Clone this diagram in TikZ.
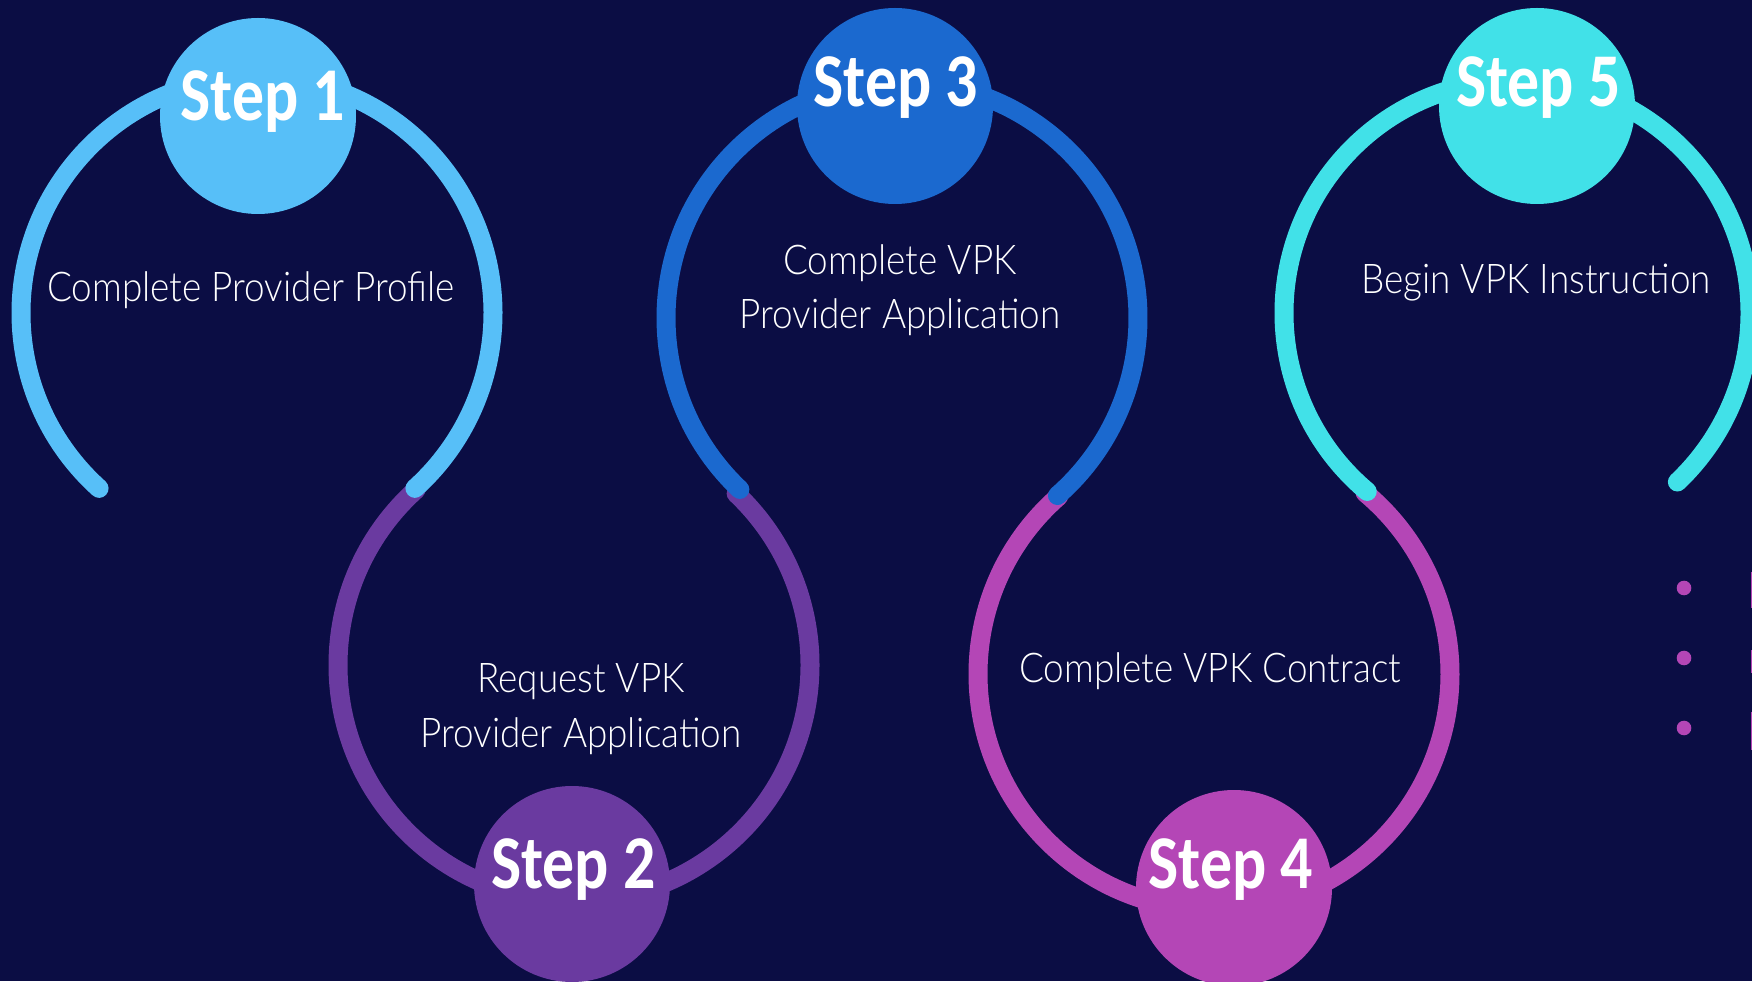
\documentclass[tikz,border=0pt]{standalone}
\usepackage{fontspec}
\setmainfont{Carlito}
\newfontfamily\stepfont{Carlito}[FakeStretch=0.84]
\newfontfamily\descfont{Lato Light}[FakeStretch=0.9]
\definecolor{bg}{RGB}{11,13,68}
\definecolor{cA}{RGB}{87,191,248}
\definecolor{cB}{RGB}{106,58,160}
\definecolor{cC}{RGB}{27,105,207}
\definecolor{cD}{RGB}{180,70,182}
\definecolor{cE}{RGB}{65,225,232}
\begin{document}
\begin{tikzpicture}[x=0.5pt,y=0.5pt,
  ring/.style={line width=9.5pt,line cap=round},
  stepcircle/.style={circle,minimum size=98pt,inner sep=0pt},
  steplabel/.style={text=white,font=\stepfont\bfseries\fontsize{38}{38}\selectfont,anchor=base,inner sep=0pt},
  desc/.style={text=white,font=\descfont\fontsize{20.5}{27}\selectfont,anchor=base,inner sep=0pt},
  dot/.style={circle,fill=cD,minimum size=7.3pt,inner sep=0pt}]
\useasboundingbox (0,0) rectangle (1752,981);
\clip (0,0) rectangle (1752,981);
\fill[bg] (0,0) rectangle (1752,981);
% ring centres
\coordinate (r1) at (257,668);
\coordinate (r2) at (574,316);
\coordinate (r3) at (902,663);
\coordinate (r4) at (1214,307);
\coordinate (r5) at (1517,668);
% lower rings first
\draw[ring,cB] ([shift={(132:236)}]r2) arc[start angle=132,end angle=406.6,radius=236];
\draw[ring,cD] ([shift={(131.2:236)}]r4) arc[start angle=131.2,end angle=410.2,radius=236];
% upper rings
\draw[ring,cA] ([shift={(228:236)}]r1) arc[start angle=228,end angle=-48,radius=236];
\draw[ring,cC] ([shift={(226.6:236)}]r3) arc[start angle=226.6,end angle=-48.8,radius=236];
\draw[ring,cE] ([shift={(230:233)}]r5) arc[start angle=230,end angle=-46.5,radius=233];
% step circles
\node[stepcircle,fill=cA] (s1) at (258,865) {};
\node[stepcircle,fill=cB] (s2) at (572,97) {};
\node[stepcircle,fill=cC] (s3) at (895,875) {};
\node[stepcircle,fill=cD] (s4) at (1234,93) {};
\node[stepcircle,fill=cE] (s5) at (1537,875) {};
\node[steplabel] (t1) at ([shift={(5,-5)}]s1.center) {Step 1};
\node[steplabel] (t2) at ([shift={(1.5,-4)}]s2.center) {Step 2};
\node[steplabel] (t3) at ([shift={(1,-1)}]s3.center) {Step 3};
\node[steplabel] (t4) at ([shift={(-3,0)}]s4.center) {Step 4};
\node[steplabel] (t5) at ([shift={(1.5,-1)}]s5.center) {Step 5};
% descriptions
\node[desc] (d1) at (251,679) {Complete Provider Profile};
\node[desc] (d2a) at (581,288) {Request VPK};
\node[desc] (d2b) at (581,234) {Provider Application};
\node[desc] (d3a) at (900,706) {Complete VPK};
\node[desc] (d3b) at (900,652) {Provider Application};
\node[desc] (d4) at (1210,298) {Complete VPK Contract};
\node[desc] (d5) at (1536,687) {Begin VPK Instruction};
% bullet dots
\node[dot] (b1) at (1684,393) {};
\node[dot] (b2) at (1684,323) {};
\node[dot] (b3) at (1684,253) {};
% slivers of cut-off text at the right edge
\fill[cD] (1750.5,373) rectangle (1752,409);
\fill[cD] (1750.5,308) rectangle (1752,331);
\fill[cD] (1750.5,231) rectangle (1752,269);
\end{tikzpicture}
\end{document}
